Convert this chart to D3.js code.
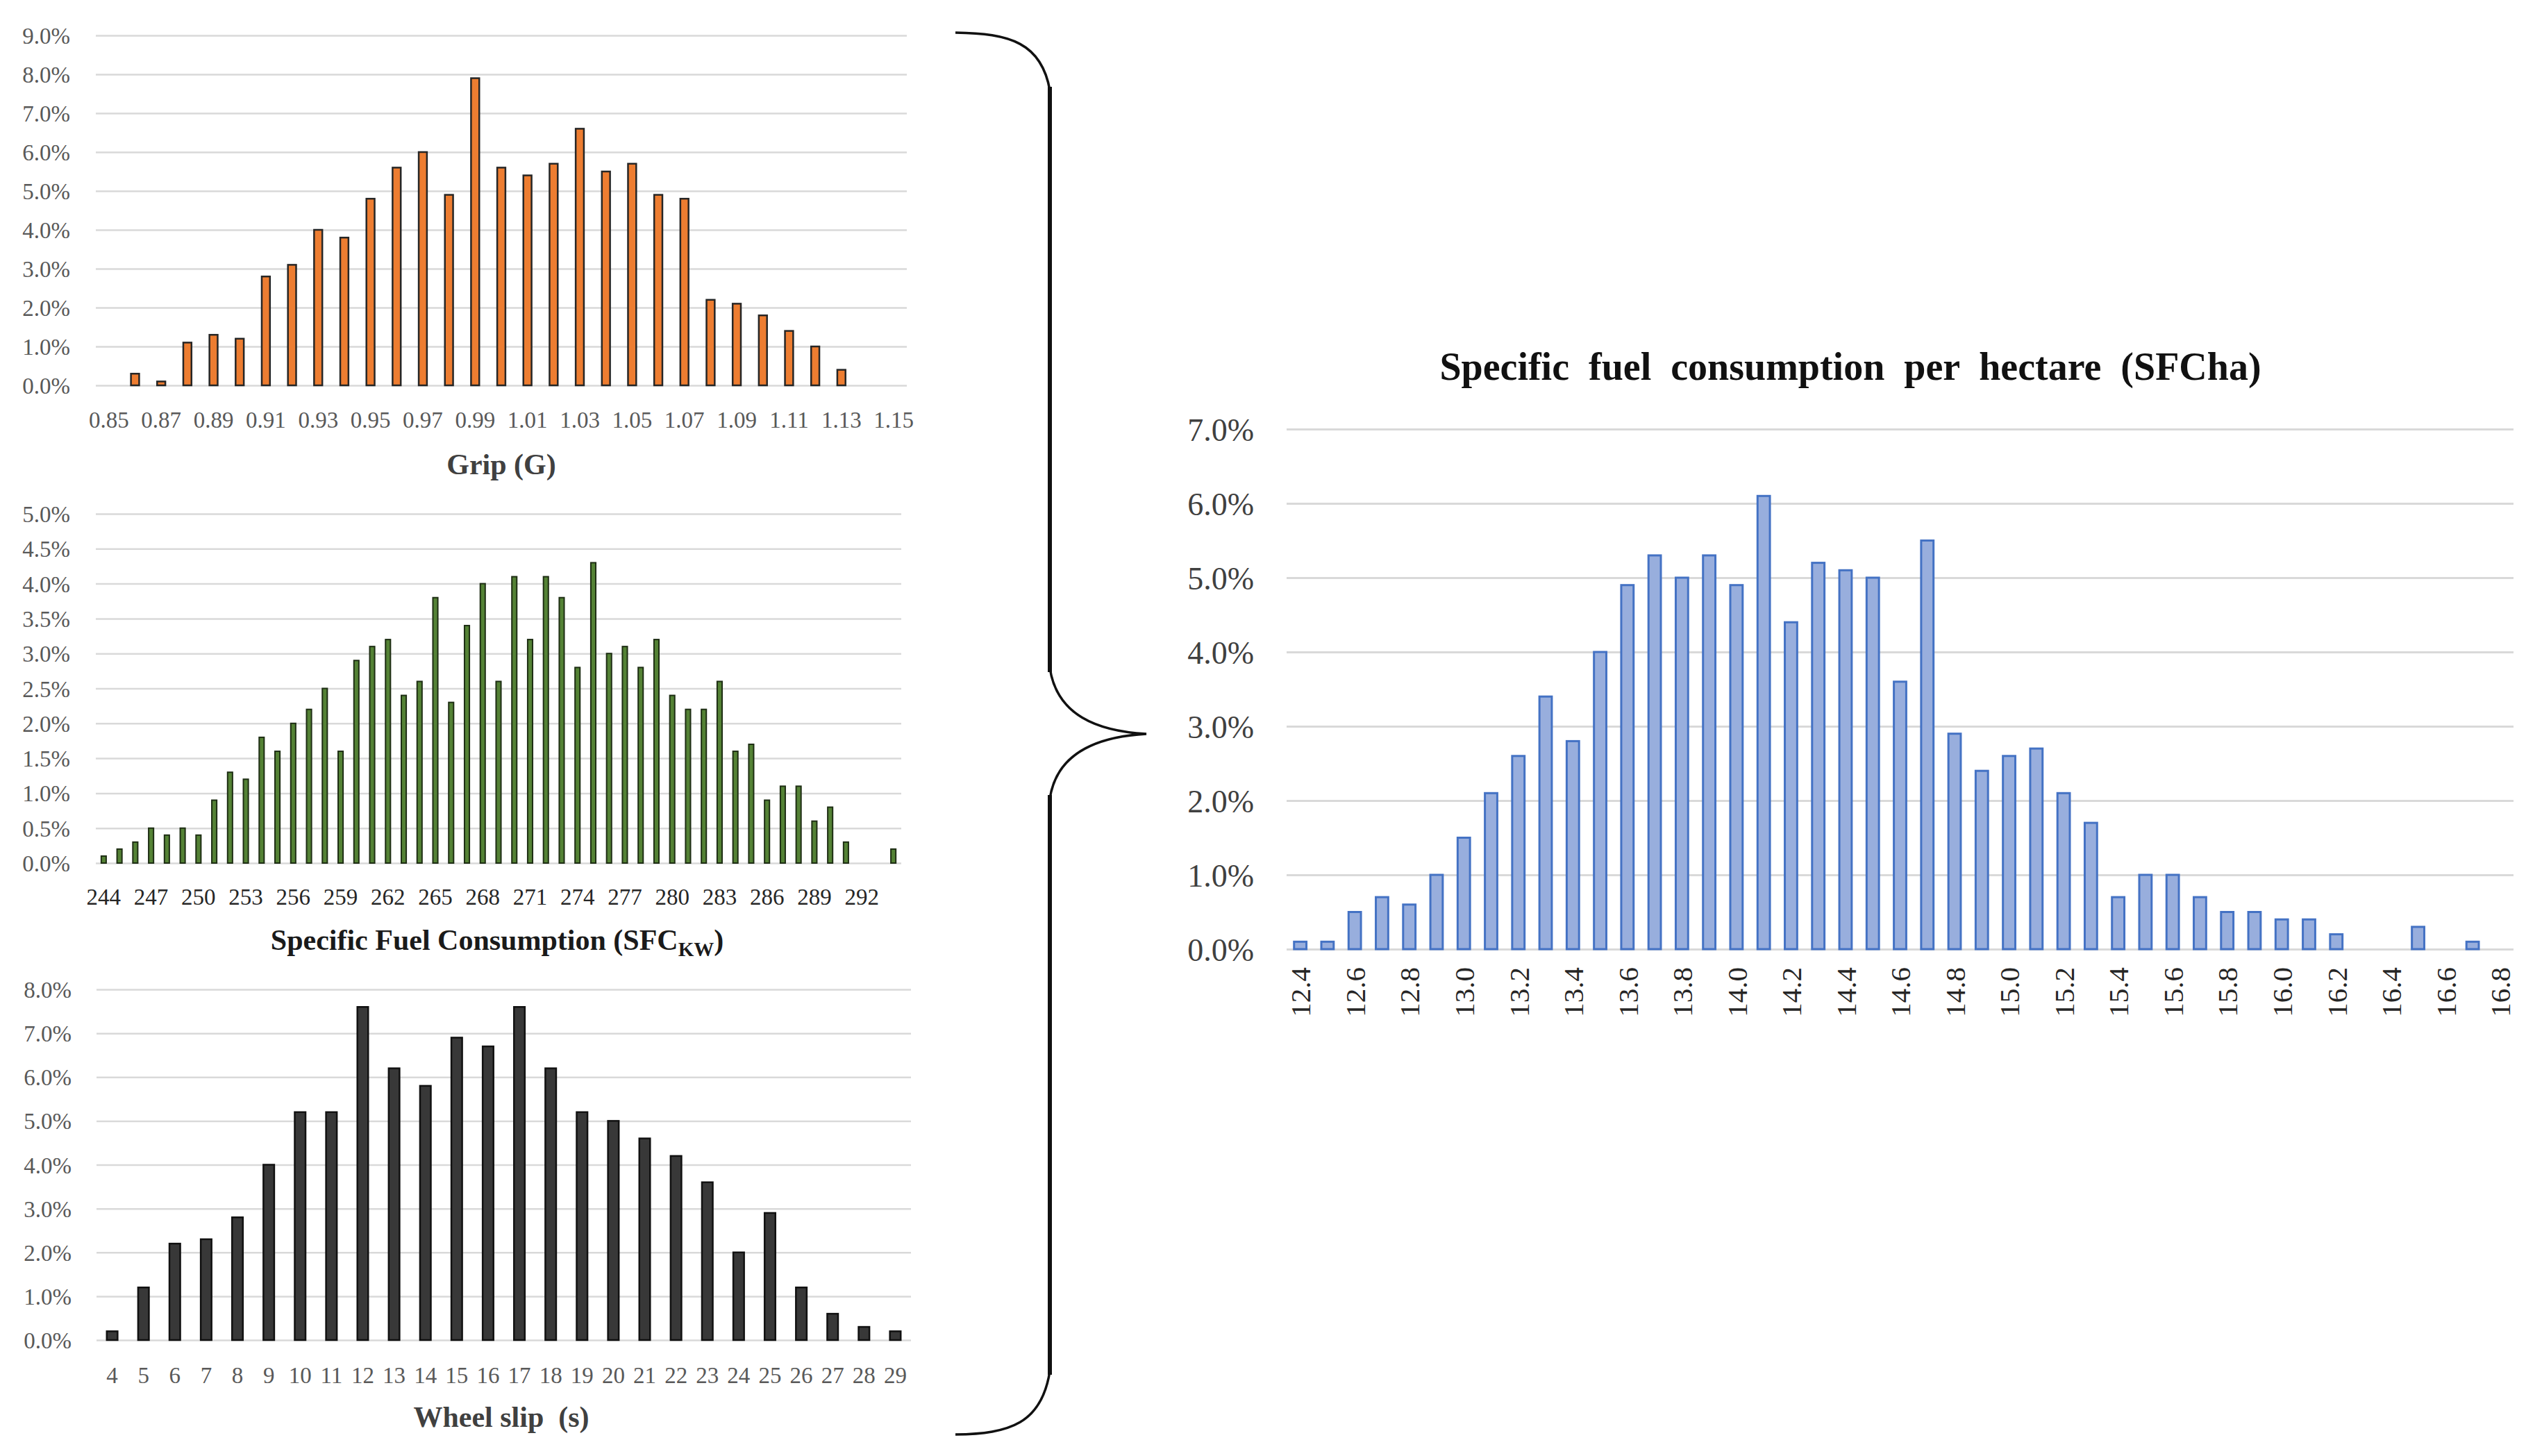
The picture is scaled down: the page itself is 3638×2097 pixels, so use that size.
<!DOCTYPE html>
<html>
<head>
<meta charset="utf-8">
<script src="https://d3js.org/d3.v7.min.js"></script>
<style>
  body { margin: 0; background: #fff; }
  svg { display: block; }
  text { font-family: "Liberation Serif", serif; }
</style>
</head>
<body>
<script>
// ---- data (values in %) ----
var gripCats = ["0.85","0.86","0.87","0.88","0.89","0.90","0.91","0.92","0.93","0.94","0.95","0.96","0.97","0.98","0.99","1.00",
                "1.01","1.02","1.03","1.04","1.05","1.06","1.07","1.08","1.09","1.10","1.11","1.12","1.13","1.14","1.15"];
var gripVals = [0,0.3,0.1,1.1,1.3,1.2,2.8,3.1,4.0,3.8,4.8,5.6,6.0,4.9,7.9,5.6,
                5.4,5.7,6.6,5.5,5.7,4.9,4.8,2.2,2.1,1.8,1.4,1.0,0.4,0,0];
var gripTicks = ["0.85","0.87","0.89","0.91","0.93","0.95","0.97","0.99","1.01","1.03","1.05","1.07","1.09","1.11","1.13","1.15"];
var gripY = [0,1,2,3,4,5,6,7,8,9];

var sfcCats = [244,245,246,247,248,249,250,251,252,253,254,255,256,257,258,259,260,261,262,263,264,265,266,267,268,269,
               270,271,272,273,274,275,276,277,278,279,280,281,282,283,284,285,286,287,288,289,290,291,292,293,294];
var sfcVals = [0.1,0.2,0.3,0.5,0.4,0.5,0.4,0.9,1.3,1.2,1.8,1.6,2.0,2.2,2.5,1.6,2.9,3.1,3.2,2.4,2.6,3.8,2.3,3.4,4.0,2.6,
               4.1,3.2,4.1,3.8,2.8,4.3,3.0,3.1,2.8,3.2,2.4,2.2,2.2,2.6,1.6,1.7,0.9,1.1,1.1,0.6,0.8,0.3,0,0,0.2];
var sfcTicks = [244,247,250,253,256,259,262,265,268,271,274,277,280,283,286,289,292];
var sfcY = [0,0.5,1,1.5,2,2.5,3,3.5,4,4.5,5];

var slipCats = [4,5,6,7,8,9,10,11,12,13,14,15,16,17,18,19,20,21,22,23,24,25,26,27,28,29];
var slipVals = [0.2,1.2,2.2,2.3,2.8,4.0,5.2,5.2,7.6,6.2,5.8,6.9,6.7,7.6,6.2,5.2,5.0,4.6,4.2,3.6,2.0,2.9,1.2,0.6,0.3,0.2];
var slipY = [0,1,2,3,4,5,6,7,8];

var haCats = ["12.4","12.5","12.6","12.7","12.8","12.9","13.0","13.1","13.2","13.3","13.4","13.5","13.6","13.7","13.8","13.9",
              "14.0","14.1","14.2","14.3","14.4","14.5","14.6","14.7","14.8","14.9","15.0","15.1","15.2","15.3","15.4","15.5",
              "15.6","15.7","15.8","15.9","16.0","16.1","16.2","16.3","16.4","16.5","16.6","16.7","16.8"];
var haVals = [0.1,0.1,0.5,0.7,0.6,1.0,1.5,2.1,2.6,3.4,2.8,4.0,4.9,5.3,5.0,5.3,
              4.9,6.1,4.4,5.2,5.1,5.0,3.6,5.5,2.9,2.4,2.6,2.7,2.1,1.7,0.7,1.0,
              1.0,0.7,0.5,0.5,0.4,0.4,0.2,0,0,0.3,0,0.1,0];
var haTicks = ["12.4","12.6","12.8","13.0","13.2","13.4","13.6","13.8","14.0","14.2","14.4","14.6","14.8","15.0","15.2",
               "15.4","15.6","15.8","16.0","16.2","16.4","16.6","16.8"];
var haY = [0,1,2,3,4,5,6,7];

var svg = d3.select("body").append("svg").attr("width", 3638).attr("height", 2097);

function drawBars(o) {
  var g = svg.append("g");
  var x = d3.scaleBand().domain(o.cats).range([o.x0, o.x1]).paddingInner(o.pad).paddingOuter(o.pad / 2);
  var y = d3.scaleLinear().domain([0, o.max]).range([o.y0, o.y1]);

  // y axis + gridlines
  var ya = g.append("g").attr("transform", "translate(" + o.x0 + ",0)")
    .call(d3.axisLeft(y).tickValues(o.yTicks).tickSize(-(o.x1 - o.x0)).tickPadding(o.x0 - o.yLabelX)
      .tickFormat(function(d){ return d.toFixed(1) + "%"; }));
  ya.select(".domain").remove();
  ya.selectAll("line").attr("stroke", "#d9d9d9").attr("stroke-width", o.gridW);
  ya.selectAll("text").attr("font-size", o.yFont).attr("fill", o.yColor)
    .attr("font-family", "Liberation Serif, serif").attr("dy", "0.35em");

  // bars
  var data = o.cats.map(function(c, i){ return {c: c, v: o.vals[i]}; }).filter(function(d){ return d.v > 0; });
  g.selectAll("rect").data(data).enter().append("rect")
    .attr("x", function(d){ return x(d.c) + o.sw / 2; })
    .attr("width", x.bandwidth() - o.sw)
    .attr("y", function(d){ return y(d.v); })
    .attr("height", function(d){ return o.y0 - y(d.v); })
    .attr("fill", o.fill)
    .attr("stroke", o.stroke)
    .attr("stroke-width", o.sw);

  // x axis labels
  var xa = g.append("g").attr("transform", "translate(0," + o.y0 + ")")
    .call(d3.axisBottom(x).tickValues(o.xTicks).tickSize(0));
  xa.select(".domain").remove();
  var t = xa.selectAll("text").attr("font-size", o.xFont).attr("fill", o.xColor)
    .attr("font-family", o.xFamily || "Liberation Serif, serif");
  if (o.rotate) {
    t.attr("transform", "rotate(-90)").attr("text-anchor", "end")
      .attr("x", -(o.xLabelY - o.y0)).attr("y", 0).attr("dy", "0.36em");
  } else {
    t.attr("y", o.xLabelY - o.y0).attr("dy", "0.35em");
  }
  return g;
}

// Grip
drawBars({cats: gripCats, vals: gripVals, xTicks: gripTicks, yTicks: gripY, max: 9,
  x0: 138, x1: 1306, y0: 555, y1: 51, pad: 0.62, sw: 2.5,
  fill: "#ed7d31", stroke: "#262626", gridW: 2.5,
  yLabelX: 101, yFont: 33, yColor: "#595959",
  xLabelY: 604, xFont: 33, xColor: "#595959"});
svg.append("text").attr("x", 722).attr("y", 668).attr("dy", "0.35em").attr("text-anchor", "middle")
  .attr("font-size", 42).attr("font-weight", "bold").attr("fill", "#404040").text("Grip (G)");

// SFC kW
drawBars({cats: sfcCats, vals: sfcVals, xTicks: sfcTicks, yTicks: sfcY, max: 5,
  x0: 138, x1: 1298, y0: 1243, y1: 740, pad: 0.6, sw: 2,
  fill: "#548235", stroke: "#1e2e14", gridW: 2.5,
  yLabelX: 101, yFont: 33, yColor: "#595959",
  xLabelY: 1291, xFont: 33, xColor: "#262626"});
var sfcT = svg.append("text").attr("x", 716).attr("y", 1353).attr("dy", "0.35em").attr("text-anchor", "middle")
  .attr("font-size", 42).attr("font-weight", "bold").attr("fill", "#1a1a1a");
sfcT.append("tspan").text("Specific Fuel Consumption (SFC");
sfcT.append("tspan").attr("font-size", 29).attr("dy", 9).text("KW");
sfcT.append("tspan").attr("dy", -9).text(")");

// Wheel slip
drawBars({cats: slipCats, vals: slipVals, xTicks: slipCats, yTicks: slipY, max: 8,
  x0: 139, x1: 1312, y0: 1930, y1: 1425, pad: 0.6, sw: 2.5,
  fill: "#383838", stroke: "#111", gridW: 2.5,
  yLabelX: 103, yFont: 33, yColor: "#595959",
  xLabelY: 1980, xFont: 33, xColor: "#595959"});
svg.append("text").attr("x", 722).attr("y", 2040).attr("dy", "0.35em").attr("text-anchor", "middle")
  .attr("font-size", 42).attr("font-weight", "bold").attr("fill", "#404040").attr("xml:space", "preserve")
  .text("Wheel slip  (s)");

// SFC per hectare
drawBars({cats: haCats, vals: haVals, xTicks: haTicks, yTicks: haY, max: 7,
  x0: 1853, x1: 3620, y0: 1367, y1: 618, pad: 0.47, sw: 3,
  fill: "#98aedd", stroke: "#4472c4", gridW: 3,
  yLabelX: 1806, yFont: 46, yColor: "#404040",
  xLabelY: 1393, xFont: 41, xColor: "#262626", xFamily: "DejaVu Sans, sans-serif", rotate: true});
svg.append("text").attr("x", 2665).attr("y", 527).attr("dy", "0.35em").attr("text-anchor", "middle")
  .attr("font-size", 56).attr("font-weight", "bold").attr("fill", "#111").attr("word-spacing", 14)
  .text("Specific fuel consumption per hectare (SFCha)");

// curly brace
svg.append("path")
  .attr("d", "M1376,47 C1455,48 1500,62 1512,130 L1512,962 C1522,1030 1580,1053 1651,1057 " +
             "C1580,1061 1522,1084 1512,1150 L1512,1975 C1500,2050 1455,2065 1376,2066")
  .attr("fill", "none").attr("stroke", "#111").attr("stroke-width", 3.5);
svg.append("path")
  .attr("d", "M1512,125 L1512,968 M1512,1145 L1512,1980")
  .attr("fill", "none").attr("stroke", "#111").attr("stroke-width", 6);
</script>
</body>
</html>
